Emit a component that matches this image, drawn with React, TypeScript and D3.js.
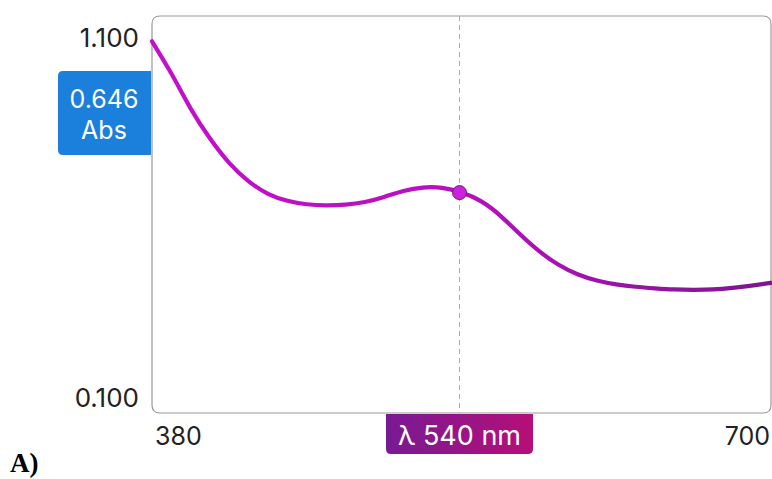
import React from "react";
import * as d3 from "d3";

const wavelengths = [380, 390, 400, 410, 420, 430, 440, 450, 460, 470, 480, 490, 500, 510, 520, 530, 540, 550, 560, 570, 580, 590, 600, 610, 620, 630, 640, 650, 660, 670, 680, 690, 700];
const absorbance = [1.035, 0.952, 0.862, 0.785, 0.722, 0.675, 0.643, 0.625, 0.616, 0.613, 0.615, 0.622, 0.635, 0.65, 0.659, 0.658, 0.646, 0.624, 0.587, 0.54, 0.496, 0.461, 0.436, 0.42, 0.41, 0.404, 0.4, 0.397, 0.396, 0.397, 0.401, 0.407, 0.414];
const yTickLabels = ["1.100", "0.100"];
const xTickLabels = ["380", "700"];
const selectedWavelength = 540;
const selectedValue = 0.646;
const panelLabel = "A)";

const W = 772;
const H = 479;
const box = { left: 152, right: 771, top: 16, bottom: 413 };
const FONT = "Inter, 'Open Sans', sans-serif";

export default function App() {
  const x = d3.scaleLinear().domain([380, 700]).range([box.left, box.right]);
  const y = d3.scaleLinear().domain([0.1, 1.1]).range([405, box.top]);
  const data = wavelengths.map((w, i) => [w, absorbance[i]] as [number, number]);
  const line = d3
    .line<[number, number]>()
    .x((d) => x(d[0]))
    .y((d) => y(d[1]))
    .curve(d3.curveNatural);
  const sx = x(selectedWavelength) - 2;
  const sy = y(selectedValue);
  const r = 8;
  const boxPath = `M${box.left},${box.top + r} Q${box.left},${box.top} ${box.left + r},${box.top} L${box.right - r},${box.top} Q${box.right},${box.top} ${box.right},${box.top + r} L${box.right},${box.bottom - r} Q${box.right},${box.bottom} ${box.right - r},${box.bottom} L${box.left + r},${box.bottom} Q${box.left},${box.bottom} ${box.left},${box.bottom - r} Z`;
  const badgeW = 147;
  const badgeX = sx - 73.5;
  return (
    <svg width={W} height={H} style={{ position: "absolute", left: 0, top: 0, background: "#fff" }}>
      <defs>
        <linearGradient id="lineGrad" x1={box.left} x2={box.right} y1="0" y2="0" gradientUnits="userSpaceOnUse">
          <stop offset="0" stopColor="#c40fcc" />
          <stop offset="0.5" stopColor="#b80fc0" />
          <stop offset="1" stopColor="#7f1590" />
        </linearGradient>
        <linearGradient id="badgeGrad" x1="0" x2="1" y1="0" y2="0">
          <stop offset="0" stopColor="#781a94" />
          <stop offset="1" stopColor="#b60f78" />
        </linearGradient>
      </defs>
      <path d={boxPath} fill="#fff" stroke="#9a9a9a" strokeWidth={1.2} />
      <line x1={sx} x2={sx} y1={box.top} y2={box.bottom} stroke="#aaaaaa" strokeWidth={1} strokeDasharray="5,4" />
      <path d={line(data) || ""} fill="none" stroke="url(#lineGrad)" strokeWidth={4.2} strokeLinecap="round" />
      <circle cx={sx} cy={sy} r={7} fill="#cc22dd" stroke="#6e1a78" strokeWidth={1} />
      <text x={139} y={37} textAnchor="end" dominantBaseline="central" fontFamily={FONT} fontSize={26} fill="#222">{yTickLabels[0]}</text>
      <text x={139} y={397} textAnchor="end" dominantBaseline="central" fontFamily={FONT} fontSize={26} fill="#222">{yTickLabels[1]}</text>
      <text x={155} y={436} textAnchor="start" dominantBaseline="central" fontFamily={FONT} fontSize={25} fill="#222">{xTickLabels[0]}</text>
      <text x={770} y={436} textAnchor="end" dominantBaseline="central" fontFamily={FONT} fontSize={25} fill="#222">{xTickLabels[1]}</text>
      <path d={`M${badgeX},${box.bottom + 1} L${badgeX + badgeW},${box.bottom + 1} L${badgeX + badgeW},${box.bottom + 36} Q${badgeX + badgeW},${box.bottom + 41} ${badgeX + badgeW - 5},${box.bottom + 41} L${badgeX + 5},${box.bottom + 41} Q${badgeX},${box.bottom + 41} ${badgeX},${box.bottom + 36} Z`} fill="url(#badgeGrad)" />
      <text x={sx} y={box.bottom + 22} textAnchor="middle" dominantBaseline="central" fontFamily={FONT} fontSize={27} fill="#fff">{`λ ${selectedWavelength} nm`}</text>
      <path d={`M151,71 L63,71 Q58,71 58,76 L58,150 Q58,155 63,155 L151,155 Z`} fill="#1b7fdc" />
      <text x={104} y={99} textAnchor="middle" dominantBaseline="central" fontFamily={FONT} fontSize={25} fill="#fff">{selectedValue.toFixed(3)}</text>
      <text x={104} y={130} textAnchor="middle" dominantBaseline="central" fontFamily={FONT} fontSize={25} fill="#fff">Abs</text>
      <text x={10} y={472} fontFamily="'Liberation Serif', 'Times New Roman', serif" fontWeight="bold" fontSize={27} fill="#000">{panelLabel}</text>
    </svg>
  );
}
